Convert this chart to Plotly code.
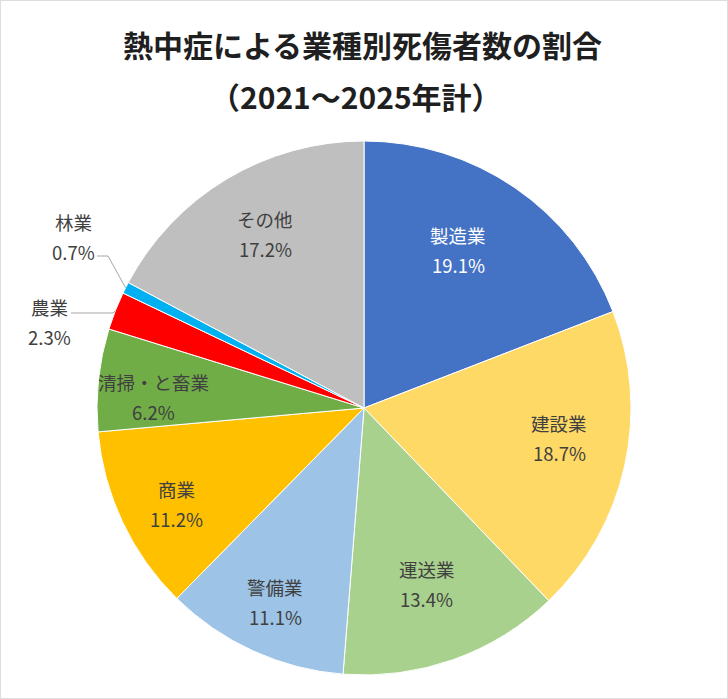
import math
import plotly.graph_objects as go

# ---- data ----
categories = ["製造業", "建設業", "運送業", "警備業", "商業", "清掃・と畜業", "農業", "林業", "その他"]
shares = [19.1, 18.7, 13.4, 11.1, 11.2, 6.2, 2.3, 0.7, 17.2]
pct_labels = ["19.1%", "18.7%", "13.4%", "11.1%", "11.2%", "6.2%", "2.3%", "0.7%", "17.2%"]
title_line1 = "熱中症による業種別死傷者数の割合"
title_line2 = "（2021～2025年計）"

# ---- style ----
colors = ["#4472C4", "#FFD966", "#A9D18E", "#9DC3E6", "#FFC000", "#70AD47", "#FF0000", "#00B0F0", "#BFBFBF"]
text_colors = ["#FFFFFF"] + ["#404040"] * 8
W, H = 728, 699
CX, CY, R = 364, 408, 267          # pie centre / radius in pixels
FONT = "Noto Sans CJK JP"
LABEL_SIZE = 18.5
# radial fraction and angle tweak (deg) of inside label blocks; None -> outside label
label_r = [0.69, 0.74, 0.70, 0.80, 0.79, 0.79, None, None, 0.75]
label_dang = [-3.7, -3.7, 0, 0, -1.8, -3.1, 0, 0, 1.5]
# outside labels: (label x px, label y px, elbow x px, elbow y px, line start x px)
outside = {6: (49, 322, 113, 313, 71), 7: (73, 237, 108, 256, 97)}

fig = go.Figure(go.Pie(
    labels=categories, values=shares, sort=False, direction="clockwise", rotation=0,
    marker=dict(colors=colors, line=dict(color="#FFFFFF", width=1)),
    textinfo="none", hoverinfo="label+percent", showlegend=False,
    domain=dict(x=[(CX - R) / W, (CX + R) / W], y=[1 - (CY + R) / H, 1 - (CY - R) / H]),
))

def px(x, y):
    return x / W, 1 - y / H

annotations = []
total = sum(shares)
cum = 0.0
for i, v in enumerate(shares):
    mid = (cum + v / 2) / total * 360.0
    cum += v
    if label_r[i] is not None:
        a = math.radians(mid + label_dang[i])
        lx = CX + label_r[i] * R * math.sin(a)
        ly = CY - label_r[i] * R * math.cos(a)
    else:
        lx, ly, ex, ey, sx = outside[i]
        a = math.radians(mid)
        x0 = CX + R * math.sin(a)
        y0 = CY - R * math.cos(a)
        xs = [sx, ex, x0]
        ys = [ey, ey, y0]
        for k in range(2):
            p0 = px(xs[k], ys[k]); p1 = px(xs[k + 1], ys[k + 1])
            fig.add_shape(type="line", xref="paper", yref="paper",
                          x0=p0[0], y0=p0[1], x1=p1[0], y1=p1[1],
                          line=dict(color="#A6A6A6", width=1))
    for txt, dy in ((categories[i], -15), (pct_labels[i], 15)):
        ax, ay = px(lx, ly + dy)
        annotations.append(dict(x=ax, y=ay, xref="paper", yref="paper", text=txt,
                                showarrow=False, xanchor="center", yanchor="middle",
                                font=dict(family=FONT, size=LABEL_SIZE, color=text_colors[i])))

tx, ty1 = px(362, 44)
tx2, ty2 = px(356, 96)
annotations.append(dict(x=tx, y=ty1, xref="paper", yref="paper", text="<b>" + title_line1 + "</b>",
                        showarrow=False, xanchor="center", yanchor="middle",
                        font=dict(family=FONT, size=30, color="#1F1F1F")))
annotations.append(dict(x=tx2, y=ty2, xref="paper", yref="paper", text="<b>" + title_line2 + "</b>",
                        showarrow=False, xanchor="center", yanchor="middle",
                        font=dict(family=FONT, size=30, color="#1F1F1F")))

fig.add_shape(type="rect", xref="paper", yref="paper", x0=0, y0=0, x1=1, y1=1,
              line=dict(color="#DDDDDD", width=2))

fig.update_layout(width=W, height=H, margin=dict(l=0, r=0, t=0, b=0),
                  paper_bgcolor="#FFFFFF", plot_bgcolor="#FFFFFF",
                  annotations=annotations, font=dict(family=FONT))
fig.write_html("out.html", config={"displayModeBar": False},
               post_script="document.body.style.margin='0';document.body.style.overflow='hidden';")
